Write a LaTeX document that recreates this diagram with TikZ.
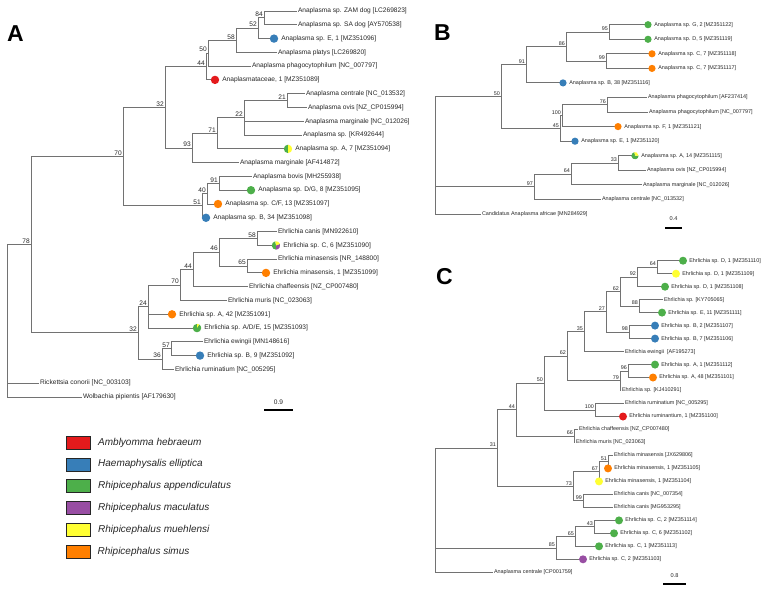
\documentclass[tikz,border=0pt]{standalone}
\usepackage{fontspec}
\setmainfont{Liberation Sans}
\usetikzlibrary{calc}
\definecolor{cred}{HTML}{E41A1C}
\definecolor{cblue}{HTML}{377EB8}
\definecolor{cgreen}{HTML}{4DAF4A}
\definecolor{cpurple}{HTML}{984EA3}
\definecolor{cyellow}{HTML}{FFFF33}
\definecolor{corange}{HTML}{FF7F00}
\definecolor{brc}{HTML}{727272}
\definecolor{txt}{HTML}{262626}
\newcommand\inode[4]{\path let \p1=(#3), \p2=(#4) in coordinate (#1) at (#2pt,{(\y1+\y2)/2});}
\newcommand\kids[2]{\foreach \kidname in {#2}{\draw[br] (#1) |- (\kidname);}}
\newcommand\bsl[3][bsA]{\node[#1] (l-#2) at (#2) {#3};}
\newcommand\sect[5]{\fill[#5] (#1) -- ++(#2:#4) arc[start angle=#2, end angle=#3, radius=#4] -- cycle;}
\tikzset{
  br/.style={draw=brc, line width=0.85pt},
  lfA/.style={anchor=west, inner sep=0.8pt, font=\fontsize{6.6}{7}\selectfont, text=txt, text height=4.8pt, text depth=1.4pt},
  lfB/.style={anchor=west, inner sep=0.8pt, font=\fontsize{5.45}{6}\selectfont, text=txt, text height=3.95pt, text depth=1.15pt},
  bsA/.style={anchor=south east, inner sep=1pt, font=\fontsize{6.6}{7}\selectfont, text=txt},
  bsB/.style={anchor=south east, inner sep=1pt, font=\fontsize{5.4}{6}\selectfont, text=txt},
  dotA/.style={circle, inner sep=0pt, minimum size=8.4pt},
  dotB/.style={circle, inner sep=0pt, minimum size=7.2pt},
  dotC/.style={circle, inner sep=0pt, minimum size=8pt},
  sbar/.style={draw=black, line width=1.1pt},
  sblab/.style={inner sep=0pt, font=\fontsize{6}{7}\selectfont, text=txt},
  panel/.style={inner sep=0pt, font=\fontsize{23}{25}\selectfont\bfseries},
  legbox/.style={rectangle, draw=black!85, line width=0.6pt, minimum width=24pt, minimum height=13pt, inner sep=0pt},
  legtxt/.style={anchor=west, inner sep=0pt, font=\fontsize{10}{12}\selectfont\itshape, text=txt}
}
\begin{document}
\begin{tikzpicture}[x=1pt,y=-1pt]
\useasboundingbox (0,0) rectangle (767,589);
% ================= Panel A =================
\node[panel] (pA) at (15.5,33.5) {A};
\coordinate (aZAM) at (297,11.0);
\coordinate (aSA) at (297,24.8);
\coordinate (aE1) at (274,38.6);
\coordinate (aPlat) at (277,52.4);
\coordinate (aPhag) at (251,66.1);
\coordinate (aAmc) at (215,79.9);
\coordinate (aCent) at (305,93.7);
\coordinate (aOvis) at (307,107.5);
\coordinate (aMarg) at (304,121.3);
\coordinate (aKR) at (302,135.1);
\coordinate (aA7) at (288,148.9);
\coordinate (aMargAF) at (239,162.6);
\coordinate (aBovis) at (252,176.4);
\coordinate (aDG) at (251,190.2);
\coordinate (aCF) at (218,204.0);
\coordinate (aB34) at (206,217.8);
\coordinate (aCanis) at (277,231.6);
\coordinate (aC6) at (276,245.4);
\coordinate (aMinNR) at (277,259.1);
\coordinate (aMin1) at (266,272.9);
\coordinate (aChaf) at (248,286.7);
\coordinate (aMuris) at (227,300.5);
\coordinate (aA42) at (172,314.3);
\coordinate (aADE) at (197,328.1);
\coordinate (aEwin) at (203,341.9);
\coordinate (aB9) at (200,355.6);
\coordinate (aRum) at (174,369.4);
\coordinate (aRick) at (39,383.2);
\coordinate (aWolb) at (82,397.0);
\inode{a84}{264}{aZAM}{aSA}
\inode{a52}{258}{a84}{aE1}
\inode{a58}{236}{a52}{aPlat}
\inode{a50}{208}{a58}{aPhag}
\inode{a44}{206}{a50}{aAmc}
\inode{a21}{287}{aCent}{aOvis}
\inode{a22}{244}{a21}{aKR}
\inode{a71}{217}{a22}{aA7}
\inode{a93}{192}{a71}{aMargAF}
\inode{a32}{165}{a44}{a93}
\inode{a91}{219}{aBovis}{aDG}
\inode{a40}{207}{a91}{aCF}
\inode{a51}{202}{a40}{aB34}
\inode{a70}{123}{a32}{a51}
\inode{e58}{257}{aCanis}{aC6}
\inode{e65}{247}{aMinNR}{aMin1}
\inode{e46}{219}{e58}{e65}
\inode{e44}{193}{e46}{aChaf}
\inode{e70}{180}{e44}{aMuris}
\inode{e24}{148}{e70}{aADE}
\inode{e57}{171}{aEwin}{aB9}
\inode{e36}{162}{e57}{aRum}
\inode{e32}{138}{e24}{e36}
\inode{a78}{31}{a70}{e32}
\inode{aroot}{7}{a78}{aWolb}
\kids{a84}{aZAM,aSA}
\kids{a52}{a84,aE1}
\kids{a58}{a52,aPlat}
\kids{a50}{a58,aPhag}
\kids{a44}{a50,aAmc}
\kids{a21}{aCent,aOvis}
\kids{a22}{a21,aMarg,aKR}
\kids{a71}{a22,aA7}
\kids{a93}{a71,aMargAF}
\kids{a32}{a44,a93}
\kids{a91}{aBovis,aDG}
\kids{a40}{a91,aCF}
\kids{a51}{a40,aB34}
\kids{a70}{a32,a51}
\kids{e58}{aCanis,aC6}
\kids{e65}{aMinNR,aMin1}
\kids{e46}{e58,e65}
\kids{e44}{e46,aChaf}
\kids{e70}{e44,aMuris}
\kids{e24}{e70,aA42,aADE}
\kids{e57}{aEwin,aB9}
\kids{e36}{e57,aRum}
\kids{e32}{e24,e36}
\kids{a78}{a70,e32}
\kids{aroot}{a78,aRick,aWolb}
\bsl{a84}{84}\bsl{a52}{52}\bsl{a58}{58}\bsl{a50}{50}\bsl{a44}{44}
\bsl{a21}{21}\bsl{a22}{22}\bsl{a71}{71}\bsl{a93}{93}\bsl{a32}{32}
\bsl{a91}{91}\bsl{a40}{40}\bsl{a51}{51}\bsl{a70}{70}
\bsl{e58}{58}\bsl{e65}{65}\bsl{e46}{46}\bsl{e44}{44}\bsl{e70}{70}
\bsl{e24}{24}\bsl{e57}{57}\bsl{e36}{36}\bsl{e32}{32}\bsl{a78}{78}
% circles A
\node[dotA, fill=cblue] (dE1) at (aE1) {};
\node[dotA, fill=cred] (dAmc) at (aAmc) {};
\sect{aA7}{90}{270}{4.2pt}{cgreen}\sect{aA7}{-90}{90}{4.2pt}{cyellow}
\node[dotA] (dA7) at (aA7) {};
\node[dotA, fill=cgreen] (dDG) at (aDG) {};
\node[dotA, fill=corange] (dCF) at (aCF) {};
\node[dotA, fill=cblue] (dB34) at (aB34) {};
\sect{aC6}{100}{270}{4.2pt}{cgreen}\sect{aC6}{-90}{20}{4.2pt}{cpurple}\sect{aC6}{20}{100}{4.2pt}{cyellow}
\node[dotA] (dC6) at (aC6) {};
\node[dotA, fill=corange] (dMin1) at (aMin1) {};
\node[dotA, fill=corange] (dA42) at (aA42) {};
\sect{aADE}{90}{420}{4.2pt}{cgreen}\sect{aADE}{60}{90}{4.2pt}{cyellow}
\node[dotA] (dADE) at (aADE) {};
\node[dotA, fill=cblue] (dB9) at (aB9) {};
% texts A
\node[lfA] (tZAM) at (aZAM) {Anaplasma sp. ZAM dog [LC269823]};
\node[lfA] (tSA) at (aSA) {Anaplasma sp. SA dog [AY570538]};
\node[lfA] (tE1) at ([xshift=6.3pt]aE1) {Anaplasma sp. E, 1 [MZ351096]};
\node[lfA] (tPlat) at (aPlat) {Anaplasma platys [LC269820]};
\node[lfA] (tPhag) at (aPhag) {Anaplasma phagocytophilum [NC\_007797]};
\node[lfA] (tAmc) at ([xshift=6.3pt]aAmc) {Anaplasmataceae, 1 [MZ351089]};
\node[lfA] (tCent) at (aCent) {Anaplasma centrale [NC\_013532]};
\node[lfA] (tOvis) at (aOvis) {Anaplasma ovis [NZ\_CP015994]};
\node[lfA] (tMarg) at (aMarg) {Anaplasma marginale [NC\_012026]};
\node[lfA] (tKR) at (aKR) {Anaplasma sp. [KR492644]};
\node[lfA] (tA7) at ([xshift=6.3pt]aA7) {Anaplasma sp. A, 7 [MZ351094]};
\node[lfA] (tMargAF) at (aMargAF) {Anaplasma marginale [AF414872]};
\node[lfA] (tBovis) at (aBovis) {Anaplasma bovis [MH255938]};
\node[lfA] (tDG) at ([xshift=6.3pt]aDG) {Anaplasma sp. D/G, 8 [MZ351095]};
\node[lfA] (tCF) at ([xshift=6.3pt]aCF) {Anaplasma sp. C/F, 13 [MZ351097]};
\node[lfA] (tB34) at ([xshift=6.3pt]aB34) {Anaplasma sp. B, 34 [MZ351098]};
\node[lfA] (tCanis) at (aCanis) {Ehrlichia canis [MN922610]};
\node[lfA] (tC6) at ([xshift=6.3pt]aC6) {Ehrlichia sp. C, 6 [MZ351090]};
\node[lfA] (tMinNR) at (aMinNR) {Ehrlichia minasensis [NR\_148800]};
\node[lfA] (tMin1) at ([xshift=6.3pt]aMin1) {Ehrlichia minasensis, 1 [MZ351099]};
\node[lfA] (tChaf) at (aChaf) {Ehrlichia chaffeensis [NZ\_CP007480]};
\node[lfA] (tMuris) at (aMuris) {Ehrlichia muris [NC\_023063]};
\node[lfA] (tA42) at ([xshift=6.3pt]aA42) {Ehrlichia sp. A, 42 [MZ351091]};
\node[lfA] (tADE) at ([xshift=6.3pt]aADE) {Ehrlichia sp. A/D/E, 15 [MZ351093]};
\node[lfA] (tEwin) at (aEwin) {Ehrlichia ewingii [MN148616]};
\node[lfA] (tB9) at ([xshift=6.3pt]aB9) {Ehrlichia sp. B, 9 [MZ351092]};
\node[lfA] (tRum) at (aRum) {Ehrlichia ruminatium [NC\_005295]};
\node[lfA] (tRick) at (aRick) {Rickettsia conorii [NC\_003103]};
\node[lfA] (tWolb) at (aWolb) {Wolbachia pipientis [AF179630]};
\coordinate (sa1) at (264,410); \coordinate (sa2) at (293,410);
\draw[sbar] (sa1) -- (sa2);
\node[sblab, font=\fontsize{6.6}{7}\selectfont] (sal) at (278.5,402) {0.9};
% ================= Legend =================
\node[legbox, fill=cred] (k1) at (78,442.5) {};
\node[legbox, fill=cblue] (k2) at (78,464.3) {};
\node[legbox, fill=cgreen] (k3) at (78,486.1) {};
\node[legbox, fill=cpurple] (k4) at (78,507.9) {};
\node[legbox, fill=cyellow] (k5) at (78,529.7) {};
\node[legbox, fill=corange] (k6) at (78,551.5) {};
\node[legtxt] (kt1) at (98,442.5) {Amblyomma hebraeum};
\node[legtxt] (kt2) at (98,464.3) {Haemaphysalis elliptica};
\node[legtxt] (kt3) at (98,486.1) {Rhipicephalus appendiculatus};
\node[legtxt] (kt4) at (98,507.9) {Rhipicephalus maculatus};
\node[legtxt] (kt5) at (98,529.7) {Rhipicephalus muehlensi};
\node[legtxt] (kt6) at (97.5,551.5) {Rhipicephalus simus};
% ================= Panel B =================
\node[panel] (pB) at (442.5,32.5) {B};
\coordinate (bG2) at (648,24.7);
\coordinate (bD5) at (648,39.3);
\coordinate (bC7a) at (652,53.8);
\coordinate (bC7b) at (652,68.4);
\coordinate (bB38) at (563,82.9);
\coordinate (bPhAF) at (647,97.5);
\coordinate (bPhNC) at (648,112.1);
\coordinate (bF1) at (618,126.6);
\coordinate (bE1) at (575,141.2);
\coordinate (bA14) at (635,155.7);
\coordinate (bOv) at (646,170.3);
\coordinate (bMa) at (642,184.9);
\coordinate (bCe) at (601,199.4);
\coordinate (bCand) at (481,214.0);
\inode{b95}{609}{bG2}{bD5}
\inode{b99}{606}{bC7a}{bC7b}
\inode{b86}{566}{b95}{b99}
\inode{b91}{526}{b86}{bB38}
\inode{b76}{607}{bPhAF}{bPhNC}
\inode{b100}{562}{b76}{bF1}
\inode{b45}{560}{b100}{bE1}
\inode{b50}{501}{b91}{b45}
\inode{b33}{618}{bA14}{bOv}
\inode{b64}{571}{b33}{bMa}
\inode{b97}{534}{b64}{bCe}
\inode{broot}{435}{b50}{bCand}
\kids{b95}{bG2,bD5}
\kids{b99}{bC7a,bC7b}
\kids{b86}{b95,b99}
\kids{b91}{b86,bB38}
\kids{b76}{bPhAF,bPhNC}
\kids{b100}{b76,bF1}
\kids{b45}{b100,bE1}
\kids{b50}{b91,b45}
\kids{b33}{bA14,bOv}
\kids{b64}{b33,bMa}
\kids{b97}{b64,bCe}
\kids{broot}{b50,b97,bCand}
\bsl[bsB]{b95}{95}\bsl[bsB]{b99}{99}\bsl[bsB]{b86}{86}\bsl[bsB]{b91}{91}
\bsl[bsB]{b76}{76}\bsl[bsB]{b100}{100}\bsl[bsB]{b45}{45}\bsl[bsB]{b50}{50}
\bsl[bsB]{b33}{33}\bsl[bsB]{b64}{64}\bsl[bsB]{b97}{97}
\node[dotB, fill=cgreen] (dG2) at (bG2) {};
\node[dotB, fill=cgreen] (dD5) at (bD5) {};
\node[dotB, fill=corange] (dC7a) at (bC7a) {};
\node[dotB, fill=corange] (dC7b) at (bC7b) {};
\node[dotB, fill=cblue] (dB38) at (bB38) {};
\node[dotB, fill=corange] (dF1) at (bF1) {};
\node[dotB, fill=cblue] (dE1B) at (bE1) {};
\sect{bA14}{100}{360}{3.6pt}{cgreen}\sect{bA14}{0}{100}{3.6pt}{cyellow}
\node[dotB] (dA14) at (bA14) {};
\node[lfB] (tG2) at ([xshift=5.3pt]bG2) {Anaplasma sp. G, 2 [MZ351122]};
\node[lfB] (tD5) at ([xshift=5.3pt]bD5) {Anaplasma sp. D, 5 [MZ351119]};
\node[lfB] (tC7a) at ([xshift=5.3pt]bC7a) {Anaplasma sp. C, 7 [MZ351118]};
\node[lfB] (tC7b) at ([xshift=5.3pt]bC7b) {Anaplasma sp. C, 7 [MZ351117]};
\node[lfB] (tB38) at ([xshift=5.3pt]bB38) {Anaplasma sp. B, 38 [MZ351116]};
\node[lfB] (tPhAF) at (bPhAF) {Anaplasma phagocytophilum [AF237414]};
\node[lfB] (tPhNC) at (bPhNC) {Anaplasma phagocytophilum [NC\_007797]};
\node[lfB] (tF1) at ([xshift=5.3pt]bF1) {Anaplasma sp. F, 1 [MZ351121]};
\node[lfB] (tE1B) at ([xshift=5.3pt]bE1) {Anaplasma sp. E, 1 [MZ351120]};
\node[lfB] (tA14) at ([xshift=5.3pt]bA14) {Anaplasma sp. A, 14 [MZ351115]};
\node[lfB] (tOv) at (bOv) {Anaplasma ovis [NZ\_CP015994]};
\node[lfB] (tMa) at (bMa) {Anaplasma marginale [NC\_012026]};
\node[lfB] (tCe) at (bCe) {Anaplasma centrale [NC\_013532]};
\node[lfB] (tCand) at (bCand) {Candidatus Anaplasma africae [MN284929]};
\coordinate (sb1) at (665,228); \coordinate (sb2) at (682,228);
\draw[sbar] (sb1) -- (sb2);
\node[sblab, font=\fontsize{5.6}{6}\selectfont] (sbl) at (673.5,219) {0.4};
% ================= Panel C =================
\node[panel] (pC) at (444.5,277) {C};
\coordinate (cD110) at (683,260.7);
\coordinate (cD109) at (676,273.7);
\coordinate (cD108) at (665,286.7);
\coordinate (cKY) at (663,299.6);
\coordinate (cE11) at (662,312.6);
\coordinate (cB2) at (655,325.6);
\coordinate (cB7) at (655,338.6);
\coordinate (cEw) at (624,351.6);
\coordinate (cA1) at (655,364.6);
\coordinate (cA48) at (653,377.5);
\coordinate (cKJ) at (621,390.5);
\coordinate (cRu) at (624,403.5);
\coordinate (cRu1) at (623,416.5);
\coordinate (cCh) at (578,429.5);
\coordinate (cMu) at (575,442.5);
\coordinate (cMiJX) at (613,455.4);
\coordinate (cMi105) at (608,468.4);
\coordinate (cMi104) at (599,481.4);
\coordinate (cCaNC) at (613,494.4);
\coordinate (cCaMG) at (613,507.4);
\coordinate (cC2a) at (619,520.4);
\coordinate (cC6) at (614,533.3);
\coordinate (cC1) at (599,546.3);
\coordinate (cC2b) at (583,559.3);
\coordinate (cAc) at (493,572.3);
\inode{c64}{657}{cD110}{cD109}
\inode{c92}{637}{c64}{cD108}
\inode{c88}{639}{cKY}{cE11}
\inode{c62u}{620}{c92}{c88}
\inode{c98}{629}{cB2}{cB7}
\inode{c27}{606}{c62u}{c98}
\inode{c35}{584}{c27}{cEw}
\inode{c96}{628}{cA1}{cA48}
\inode{c79}{620}{c96}{cKJ}
\inode{c62l}{567}{c35}{c79}
\inode{c100}{595}{cRu}{cRu1}
\inode{c50}{544}{c62l}{c100}
\inode{c66}{574}{cCh}{cMu}
\inode{c44}{516}{c50}{c66}
\inode{c51}{608}{cMiJX}{cMi105}
\inode{c67}{599}{c51}{cMi104}
\inode{c99}{583}{cCaNC}{cCaMG}
\inode{c73}{573}{c67}{c99}
\inode{c31}{497}{c44}{c73}
\inode{c43}{594}{cC2a}{cC6}
\inode{c65}{575}{c43}{cC1}
\inode{c85}{556}{c65}{cC2b}
\inode{croot}{435}{c31}{cAc}
\kids{c64}{cD110,cD109}
\kids{c92}{c64,cD108}
\kids{c88}{cKY,cE11}
\kids{c62u}{c92,c88}
\kids{c98}{cB2,cB7}
\kids{c27}{c62u,c98}
\kids{c35}{c27,cEw}
\kids{c96}{cA1,cA48}
\kids{c79}{c96,cKJ}
\kids{c62l}{c35,c79}
\kids{c100}{cRu,cRu1}
\kids{c50}{c62l,c100}
\kids{c66}{cCh,cMu}
\kids{c44}{c50,c66}
\kids{c51}{cMiJX,cMi105}
\kids{c67}{c51,cMi104}
\kids{c99}{cCaNC,cCaMG}
\kids{c73}{c67,c99}
\kids{c31}{c44,c73}
\kids{c43}{cC2a,cC6}
\kids{c65}{c43,cC1}
\kids{c85}{c65,cC2b}
\kids{croot}{c31,c85,cAc}
\bsl[bsB]{c64}{64}\bsl[bsB]{c92}{92}\bsl[bsB]{c88}{88}\bsl[bsB]{c62u}{62}
\bsl[bsB]{c98}{98}\bsl[bsB]{c27}{27}\bsl[bsB]{c35}{35}\bsl[bsB]{c96}{96}
\bsl[bsB]{c79}{79}\bsl[bsB]{c62l}{62}\bsl[bsB]{c100}{100}\bsl[bsB]{c50}{50}
\bsl[bsB]{c66}{66}\bsl[bsB]{c44}{44}\bsl[bsB]{c51}{51}\bsl[bsB]{c67}{67}
\bsl[bsB]{c99}{99}\bsl[bsB]{c73}{73}\bsl[bsB]{c31}{31}\bsl[bsB]{c43}{43}
\bsl[bsB]{c65}{65}\bsl[bsB]{c85}{85}
\node[dotC, fill=cgreen] (dD110) at (cD110) {};
\node[dotC, fill=cyellow] (dD109) at (cD109) {};
\node[dotC, fill=cgreen] (dD108) at (cD108) {};
\node[dotC, fill=cgreen] (dE11) at (cE11) {};
\node[dotC, fill=cblue] (dB2) at (cB2) {};
\node[dotC, fill=cblue] (dB7) at (cB7) {};
\node[dotC, fill=cgreen] (dA1) at (cA1) {};
\node[dotC, fill=corange] (dA48) at (cA48) {};
\node[dotC, fill=cred] (dRu1) at (cRu1) {};
\node[dotC, fill=corange] (dMi105) at (cMi105) {};
\node[dotC, fill=cyellow] (dMi104) at (cMi104) {};
\node[dotC, fill=cgreen] (dC2a) at (cC2a) {};
\node[dotC, fill=cgreen] (dC6) at (cC6) {};
\node[dotC, fill=cgreen] (dC1) at (cC1) {};
\node[dotC, fill=cpurple] (dC2b) at (cC2b) {};
\node[lfB] (tD110) at ([xshift=5.3pt]cD110) {Ehrlichia sp. D, 1 [MZ351110]};
\node[lfB] (tD109) at ([xshift=5.3pt]cD109) {Ehrlichia sp. D, 1 [MZ351109]};
\node[lfB] (tD108) at ([xshift=5.3pt]cD108) {Ehrlichia sp. D, 1 [MZ351108]};
\node[lfB] (tKY) at (cKY) {Ehrlichia sp. [KY705065]};
\node[lfB] (tE11) at ([xshift=5.3pt]cE11) {Ehrlichia sp. E, 11 [MZ351111]};
\node[lfB] (tB2) at ([xshift=5.3pt]cB2) {Ehrlichia sp. B, 2 [MZ351107]};
\node[lfB] (tB7) at ([xshift=5.3pt]cB7) {Ehrlichia sp. B, 7 [MZ351106]};
\node[lfB] (tEw) at (cEw) {Ehrlichia ewingii\ \ [AF195273]};
\node[lfB] (tA1) at ([xshift=5.3pt]cA1) {Ehrlichia sp. A, 1 [MZ351112]};
\node[lfB] (tA48) at ([xshift=5.3pt]cA48) {Ehrlichia sp. A, 48 [MZ351101]};
\node[lfB] (tKJ) at (cKJ) {Ehrlichia sp. [KJ410291]};
\node[lfB] (tRu) at (cRu) {Ehrlichia ruminatium [NC\_005295]};
\node[lfB] (tRu1) at ([xshift=5.3pt]cRu1) {Ehrlichia ruminantium, 1 [MZ351100]};
\node[lfB] (tCh) at (cCh) {Ehrlichia chaffeensis [NZ\_CP007480]};
\node[lfB] (tMu) at (cMu) {Ehrlichia muris [NC\_023063]};
\node[lfB] (tMiJX) at (cMiJX) {Ehrlichia minasensis [JX629806]};
\node[lfB] (tMi105) at ([xshift=5.3pt]cMi105) {Ehrlichia minasensis, 1 [MZ351105]};
\node[lfB] (tMi104) at ([xshift=5.3pt]cMi104) {Ehrlichia minasensis, 1 [MZ351104]};
\node[lfB] (tCaNC) at (cCaNC) {Ehrlichia canis [NC\_007354]};
\node[lfB] (tCaMG) at (cCaMG) {Ehrlichia canis [MG953295]};
\node[lfB] (tC2a) at ([xshift=5.3pt]cC2a) {Ehrlichia sp. C, 2 [MZ351114]};
\node[lfB] (tC6) at ([xshift=5.3pt]cC6) {Ehrlichia sp. C, 6 [MZ351102]};
\node[lfB] (tC1) at ([xshift=5.3pt]cC1) {Ehrlichia sp. C, 1 [MZ351113]};
\node[lfB] (tC2b) at ([xshift=5.3pt]cC2b) {Ehrlichia sp. C, 2 [MZ351103]};
\node[lfB] (tAc) at (cAc) {Anaplasma centrale [CP001759]};
\coordinate (sc1) at (663,584); \coordinate (sc2) at (686,584);
\draw[sbar] (sc1) -- (sc2);
\node[sblab, font=\fontsize{5.6}{6}\selectfont] (scl) at (674.5,576) {0.8};
\end{tikzpicture}
\end{document}
